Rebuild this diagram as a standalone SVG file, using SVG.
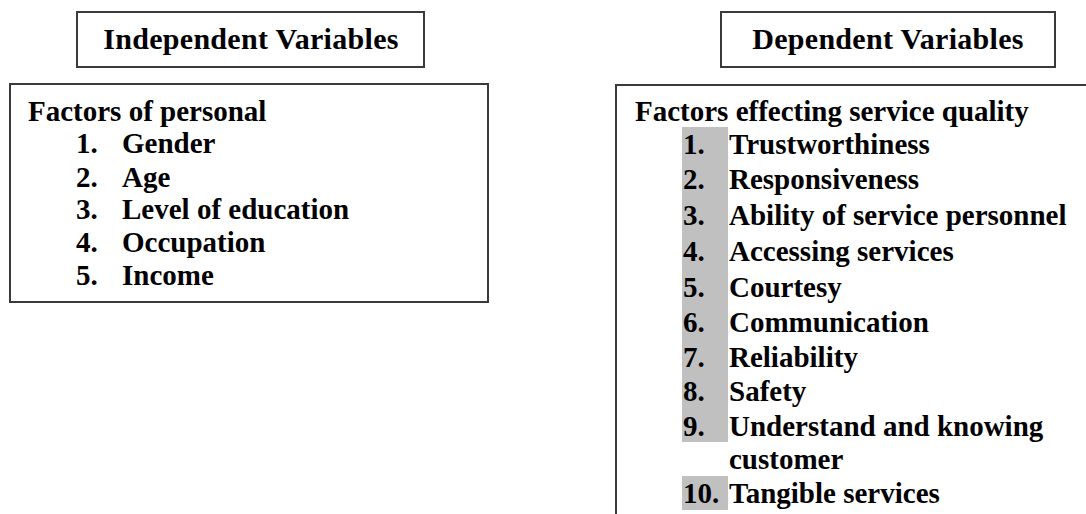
<svg xmlns="http://www.w3.org/2000/svg" width="1086" height="514" viewBox="0 0 1086 514">
<style>
.box{fill:#fff;stroke:#3a3a3a;stroke-width:2}
.hd{font-family:"Liberation Serif","Times New Roman",serif;font-weight:bold;font-size:30px;letter-spacing:0.3px;fill:#000}
.tx{font-family:"Liberation Serif","Times New Roman",serif;font-weight:bold;font-size:29px;fill:#000}
.hl{fill:#c0c0c0}
</style>
<rect width="1086" height="514" fill="#fff"/>
<g id="independent-header">
<rect class="box" x="77" y="12" width="347" height="55"/>
<text class="hd" x="251" y="49" text-anchor="middle">Independent Variables</text>
</g>
<g id="dependent-header">
<rect class="box" x="721" y="12" width="334" height="55"/>
<text class="hd" x="888" y="49" text-anchor="middle">Dependent Variables</text>
</g>
<g id="personal-factors">
<rect class="box" x="10" y="84" width="478" height="218"/>
<text class="tx" x="28" y="121">Factors of personal</text>
<text class="tx" x="76" y="153">1.</text><text class="tx" x="122" y="153">Gender</text>
<text class="tx" x="76" y="187">2.</text><text class="tx" x="122" y="187">Age</text>
<text class="tx" x="76" y="219">3.</text><text class="tx" x="122" y="219">Level of education</text>
<text class="tx" x="76" y="252">4.</text><text class="tx" x="122" y="252">Occupation</text>
<text class="tx" x="76" y="285">5.</text><text class="tx" x="122" y="285">Income</text>
</g>
<g id="service-quality-factors">
<rect class="box" x="616" y="85" width="500" height="460"/>
<rect class="hl" x="682" y="127" width="46" height="315"/>
<rect class="hl" x="682" y="476" width="46" height="34"/>
<text class="tx" x="635" y="121">Factors effecting service quality</text>
<text class="tx" x="683" y="154">1.</text><text class="tx" x="729" y="154">Trustworthiness</text>
<text class="tx" x="683" y="189">2.</text><text class="tx" x="729" y="189">Responsiveness</text>
<text class="tx" x="683" y="225">3.</text><text class="tx" x="729" y="225">Ability of service personnel</text>
<text class="tx" x="683" y="261">4.</text><text class="tx" x="729" y="261">Accessing services</text>
<text class="tx" x="683" y="297">5.</text><text class="tx" x="729" y="297">Courtesy</text>
<text class="tx" x="683" y="332">6.</text><text class="tx" x="729" y="332">Communication</text>
<text class="tx" x="683" y="367">7.</text><text class="tx" x="729" y="367">Reliability</text>
<text class="tx" x="683" y="401">8.</text><text class="tx" x="729" y="401">Safety</text>
<text class="tx" x="683" y="436">9.</text><text class="tx" x="729" y="436">Understand and knowing</text>
<text class="tx" x="729" y="469">customer</text>
<text class="tx" x="683" y="503">10.</text><text class="tx" x="729" y="503">Tangible services</text>
</g>
<g id="connectors"/>
</svg>
